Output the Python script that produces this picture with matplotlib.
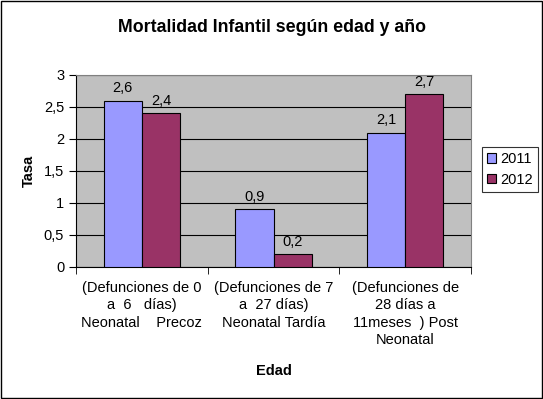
import matplotlib
matplotlib.use("Agg")
import matplotlib.pyplot as plt
import numpy as np
from matplotlib.patches import Rectangle
from matplotlib.ticker import FuncFormatter, FixedLocator

plt.rcParams['font.family'] = ['Liberation Sans', 'DejaVu Sans']

categories = [
    "(Defunciones de 0\na  6   días)\nNeonatal    Precoz",
    "(Defunciones de 7\na  27 días)\nNeonatal Tardía",
    "(Defunciones de\n28 días a\n11meses  ) Post\nNeonatal",
]
series_names = ["2011", "2012"]
values_2011 = [2.6, 0.9, 2.1]
values_2012 = [2.4, 0.2, 2.7]
colors = ["#9999FF", "#993366"]

fig = plt.figure(figsize=(5.43, 3.99), dpi=100)
ax = fig.add_axes([76/543, 1-267/399, (471-76)/543, (267-75)/399])
ax.set_facecolor("#C0C0C0")

x = np.arange(len(categories))
w = 0.29
b1 = ax.bar(x - w/2, values_2011, w, color=colors[0], edgecolor="black", linewidth=0.8, label=series_names[0], zorder=3)
b2 = ax.bar(x + w/2, values_2012, w, color=colors[1], edgecolor="black", linewidth=0.8, label=series_names[1], zorder=3)

def fmt(v):
    s = f"{v:g}"
    return s.replace(".", ",")

FS = 10.5
for bars, vals in ((b1, values_2011), (b2, values_2012)):
    for r, v in zip(bars, vals):
        ax.annotate(fmt(v), (r.get_x() + r.get_width()/2, v), xytext=(0, 4),
                    textcoords="offset points", ha="center", va="bottom", fontsize=FS)

ax.set_xlim(-0.5, 2.5)
ax.set_ylim(0, 3)
ax.set_yticks(np.arange(0, 3.01, 0.5))
ax.yaxis.set_major_formatter(FuncFormatter(lambda v, p: fmt(v)))
ax.grid(axis="y", color="black", linewidth=0.8, zorder=1)
ax.set_axisbelow(True)

ax.set_xticks(x)
ax.set_xticklabels(categories, fontsize=FS, linespacing=1.32)
ax.tick_params(axis="x", length=0, pad=10)
ax.xaxis.set_minor_locator(FixedLocator([-0.5, 0.5, 1.5, 2.5]))
ax.tick_params(axis="x", which="minor", length=5, color="black", direction="out")
ax.tick_params(axis="y", length=5, color="black", direction="out", labelsize=FS)

for s in ("top", "right"):
    ax.spines[s].set_color("#808080")
    ax.spines[s].set_linewidth(0.8)
for s in ("left", "bottom"):
    ax.spines[s].set_color("black")
    ax.spines[s].set_linewidth(0.8)

ax.set_ylabel("Tasa", fontsize=FS, fontweight="bold", labelpad=6)
ax.set_xlabel("Edad", fontsize=FS, fontweight="bold", labelpad=12)

fig.suptitle("Mortalidad Infantil según edad y año", fontsize=12.8, fontweight="bold", y=1-28/399, va="center")

leg = fig.legend(handles=[b1, b2], labels=series_names, loc="upper left",
                 bbox_to_anchor=(482/543, 1-147/399), fontsize=FS, frameon=True,
                 fancybox=False, edgecolor="black", handlelength=0.6, handleheight=0.6,
                 handletextpad=0.3, borderpad=0.35, labelspacing=0.45, borderaxespad=0)
leg.get_frame().set_linewidth(0.8)

fig.patches.append(Rectangle((1/543, 1/399), 541/543, 397/399, transform=fig.transFigure,
                             fill=False, edgecolor="black", linewidth=1))

fig.savefig("out.png", dpi=100)
